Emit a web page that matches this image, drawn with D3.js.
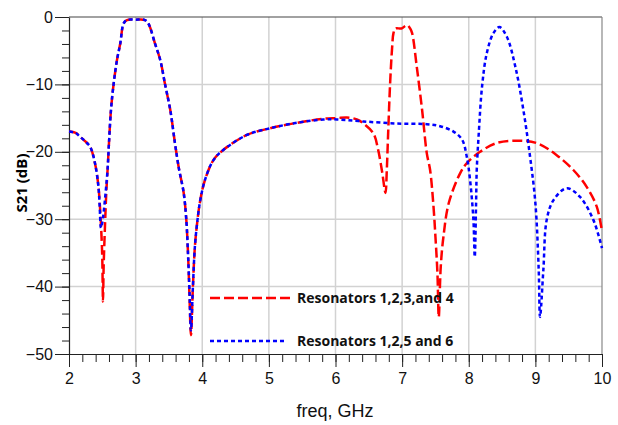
<!DOCTYPE html>
<html>
<head>
<meta charset="utf-8">
<script src="https://cdn.jsdelivr.net/npm/d3@7"></script>
<style>
  body { margin: 0; background: #fff; }
  svg { display: block; }
</style>
</head>
<body>
<div id="chart"></div>
<script>
// Data: [freq GHz, S21 dB]
var redCurve = [
  [2.0,-17.0],[2.1,-17.2],[2.17,-17.8],[2.25,-18.5],[2.32,-19.3],[2.39,-21.7],[2.44,-25],
  [2.47,-29],[2.49,-33],[2.5,-36],[2.51,-42.2],[2.52,-37],[2.54,-31],[2.56,-26],
  [2.58,-22.5],[2.6,-18.7],[2.63,-13.8],[2.67,-9.9],[2.72,-6.4],[2.77,-3.9],[2.82,-0.94],
  [2.87,-0.45],[3.0,-0.4],[3.14,-0.45],[3.19,-0.94],[3.29,-3.9],[3.37,-6.4],[3.44,-9.9],
  [3.52,-13.8],[3.59,-18.7],[3.65,-22.5],[3.72,-26],[3.76,-30],[3.79,-36],[3.81,-42],
  [3.83,-47.2],[3.86,-40],[3.89,-34],[3.93,-30],[3.97,-27.2],[4.04,-24.2],[4.17,-21.2],
  [4.32,-19.7],[4.67,-17.5],[5.02,-16.5],[5.42,-15.7],[5.82,-15.1],[6.02,-15.0],
  [6.17,-14.9],[6.32,-15.2],[6.42,-15.8],[6.57,-17.3],[6.64,-19.7],[6.7,-23],
  [6.75,-26.1],[6.77,-22.7],[6.79,-17.3],[6.82,-9.8],[6.85,-4.5],[6.87,-2.4],
  [6.9,-1.7],[6.99,-1.7],[7.05,-1.3],[7.08,-1.2],[7.12,-1.7],[7.15,-2.4],[7.22,-7.4],
  [7.3,-13.8],[7.37,-20.2],[7.42,-22.7],[7.47,-28],[7.5,-32.6],[7.53,-38],[7.55,-44.5],
  [7.58,-37],[7.62,-32.6],[7.7,-27.6],[7.87,-23.2],[7.97,-21.7],[8.17,-20.0],
  [8.42,-18.7],[8.72,-18.35],[9.02,-18.7],[9.32,-20.5],[9.57,-22.7],[9.77,-25.2],
  [9.92,-28.1],[10.0,-31.8]
];
var blueCurve = [
  [2.0,-17.0],[2.1,-17.2],[2.17,-17.8],[2.25,-18.5],[2.32,-19.3],[2.39,-21.7],[2.44,-25],
  [2.46,-28],[2.48,-31.3],[2.5,-30.5],[2.52,-29],[2.55,-26],[2.58,-22.5],[2.6,-18.7],
  [2.63,-13.8],[2.67,-9.9],[2.72,-6.4],[2.77,-3.9],[2.82,-0.94],[2.87,-0.45],[3.0,-0.4],
  [3.14,-0.45],[3.19,-0.94],[3.29,-3.9],[3.37,-6.4],[3.44,-9.9],[3.52,-13.8],
  [3.59,-18.7],[3.65,-22.5],[3.72,-26],[3.76,-30],[3.79,-36],[3.81,-41],[3.83,-46.5],
  [3.86,-40],[3.89,-34],[3.93,-30],[3.97,-27.2],[4.04,-24.2],[4.17,-21.2],[4.32,-19.7],
  [4.67,-17.5],[5.02,-16.5],[5.42,-15.7],[5.82,-15.2],[6.02,-15.2],[6.42,-15.5],
  [6.92,-15.8],[7.37,-15.9],[7.57,-16.2],[7.77,-17.0],[7.9,-18.2],[7.97,-20.7],
  [8.02,-24.2],[8.07,-30.1],[8.09,-35.6],[8.11,-27.6],[8.12,-22.7],[8.15,-17.3],
  [8.2,-10.3],[8.27,-5.4],[8.37,-2.4],[8.46,-1.5],[8.57,-2.9],[8.7,-7.4],[8.82,-13.8],
  [8.92,-20.7],[9.0,-27.6],[9.05,-37.5],[9.07,-44.5],[9.12,-37.5],[9.17,-30.1],
  [9.27,-27.2],[9.47,-25.4],[9.67,-26.7],[9.87,-30.1],[10.0,-34.3]
];
var seriesNames = ["Resonators 1,2,3,and 4", "Resonators 1,2,5 and 6"];
var xTicks = [2, 3, 4, 5, 6, 7, 8, 9, 10];
var yTicks = [0, -10, -20, -30, -40, -50];

var W = 618, H = 425;
var margin = {top: 17, right: 16, bottom: 71, left: 69};
var width = W - margin.left - margin.right,
    height = H - margin.top - margin.bottom;

var svg = d3.select("#chart").append("svg")
    .attr("width", W).attr("height", H)
  .append("g")
    .attr("transform", "translate(" + margin.left + "," + margin.top + ")");

var x = d3.scaleLinear().domain([2, 10]).range([0, width]);
var y = d3.scaleLinear().domain([-50, 0]).range([height, 0]);

// grid
svg.append("g").selectAll("line")
  .data(xTicks.slice(1, -1)).enter().append("line")
    .attr("x1", d => x(d)).attr("x2", d => x(d))
    .attr("y1", 0).attr("y2", height)
    .attr("stroke", "#d2d2d2").attr("stroke-width", 1.5);
svg.append("g").selectAll("line")
  .data(yTicks.slice(1, -1)).enter().append("line")
    .attr("x1", 0).attr("x2", width)
    .attr("y1", d => y(d)).attr("y2", d => y(d))
    .attr("stroke", "#d2d2d2").attr("stroke-width", 1.5);

// frame top / right
svg.append("line").attr("x1", 0).attr("x2", width).attr("y1", 0).attr("y2", 0)
  .attr("stroke", "#444").attr("stroke-width", 1.2);
svg.append("line").attr("x1", width).attr("x2", width).attr("y1", 0).attr("y2", height)
  .attr("stroke", "#888").attr("stroke-width", 1.2);

// minor ticks
svg.append("g").attr("transform", "translate(0," + height + ")")
  .call(d3.axisBottom(x).tickValues(d3.range(2, 10.01, 0.2)).tickSize(8).tickFormat(""))
  .call(g => g.select(".domain").remove())
  .selectAll("line").attr("stroke", "#222");
svg.append("g")
  .call(d3.axisLeft(y).tickValues(d3.range(-50, 0.01, 2)).tickSize(7).tickFormat(""))
  .call(g => g.select(".domain").remove())
  .selectAll("line").attr("stroke", "#222");

// major axes
var xAxis = svg.append("g").attr("transform", "translate(0," + height + ")")
  .call(d3.axisBottom(x).tickValues(xTicks).tickSize(13).tickPadding(6).tickSizeOuter(0).tickFormat(d3.format("d")));
xAxis.select(".domain").attr("stroke", "#222").attr("stroke-width", 1.2);
var yAxis = svg.append("g")
  .call(d3.axisLeft(y).tickValues(yTicks).tickSize(14).tickPadding(2).tickSizeOuter(0));
yAxis.select(".domain").attr("stroke", "#222").attr("stroke-width", 1.2);
svg.selectAll(".tick text")
  .style("font-family", "'Liberation Sans', Arial, sans-serif")
  .style("font-size", "16px").attr("fill", "#111");
svg.selectAll(".tick line").attr("stroke", "#222");

var line = d3.line().x(d => x(d[0])).y(d => y(d[1])).curve(d3.curveCatmullRom.alpha(0.5));

svg.append("path").datum(redCurve)
  .attr("d", line).attr("fill", "none")
  .attr("stroke", "#ff0000").attr("stroke-width", 2.5)
  .attr("stroke-dasharray", "10,4");
svg.append("path").datum(blueCurve)
  .attr("d", line).attr("fill", "none")
  .attr("stroke", "#0000ff").attr("stroke-width", 2.5)
  .attr("stroke-dasharray", "4,3");

// legend
var legend = [
  {name: seriesNames[0], color: "#ff0000", dash: "10,4", y: 298, x2: 291},
  {name: seriesNames[1], color: "#0000ff", dash: "4,3", y: 341, x2: 287}
];
legend.forEach(function(l) {
  svg.append("line")
    .attr("x1", 210 - margin.left).attr("x2", l.x2 - margin.left)
    .attr("y1", l.y - margin.top).attr("y2", l.y - margin.top)
    .attr("stroke", l.color).attr("stroke-width", 2.5)
    .attr("stroke-dasharray", l.dash);
  svg.append("text")
    .attr("x", 297 - margin.left).attr("y", l.y - margin.top)
    .attr("dy", "0.35em")
    .style("font-family", "'Open Sans', sans-serif")
    .style("font-weight", "bold").style("font-size", "14px")
    .attr("fill", "#111")
    .text(l.name);
});

// axis labels
svg.append("text")
  .attr("transform", "translate(" + (22 - margin.left) + "," + (183 - margin.top) + ") rotate(-90)")
  .attr("text-anchor", "middle").attr("dy", "0.35em")
  .style("font-family", "'Open Sans', sans-serif")
  .style("font-weight", "bold").style("font-size", "15px")
  .text("S21 (dB)");

svg.append("text")
  .attr("x", 335 - margin.left).attr("y", 411 - margin.top)
  .attr("text-anchor", "middle").attr("dy", "0.35em")
  .style("font-family", "'Liberation Sans', Arial, sans-serif")
  .style("font-size", "18px").attr("fill", "#111")
  .text("freq, GHz");
</script>
</body>
</html>
